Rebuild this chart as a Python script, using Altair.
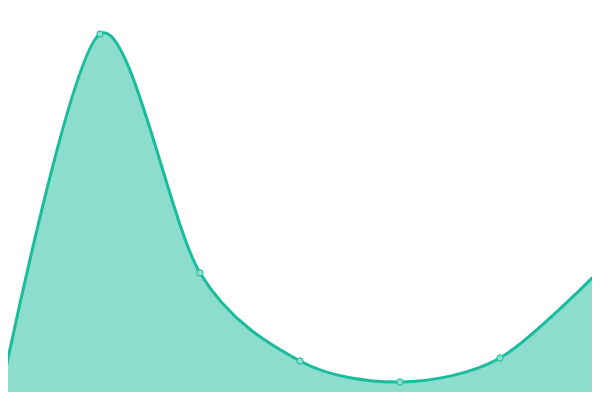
import altair as alt
import pandas as pd

xs = [0, 1, 2, 3, 4, 5, 6]
values = [3, 366, 127, 39, 18, 42, 130]

df = pd.DataFrame({"x": xs, "v": values})

xscale = alt.Scale(domain=[0.08, 5.92], nice=False, zero=False)
yscale = alt.Scale(domain=[8, 392], nice=False, zero=False)

base = alt.Chart(df).encode(
    x=alt.X("x:Q", scale=xscale, axis=None),
    y=alt.Y("v:Q", scale=yscale, axis=None),
    y2=alt.datum(0),
)

area = base.mark_area(
    interpolate="cardinal", tension=0.1, color="#1abc9c", fillOpacity=0.5,
    line={"color": "#1abc9c", "strokeWidth": 3}, clip=False,
)
points = alt.Chart(df).mark_point(
    filled=True, size=40, fill="#8ae0cf", stroke="#1abc9c", strokeWidth=1,
    opacity=1, clip=False,
).encode(
    x=alt.X("x:Q", scale=xscale, axis=None),
    y=alt.Y("v:Q", scale=yscale, axis=None),
)

chart = (area + points).properties(
    width=584, height=384, padding=0,
    autosize=alt.AutoSizeParams(type="none"),
).configure_view(stroke=None)

chart.save("out.html", embed_options={"renderer": "svg", "actions": False})
